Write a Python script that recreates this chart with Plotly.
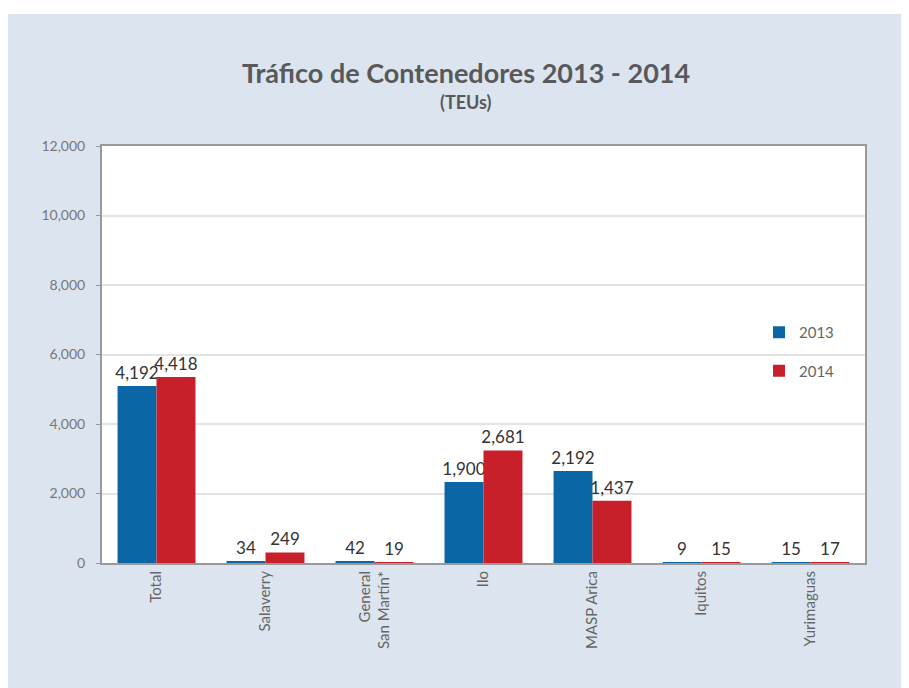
import plotly.graph_objects as go

categories = ["Total", "Salaverry", "General<br>San Martín*", "Ilo", "MASP Arica", "Iquitos", "Yurimaguas"]
# bar heights
heights_2013 = [5095, 40, 60, 2330, 2650, 11, 18]
heights_2014 = [5350, 305, 23, 3240, 1790, 18, 21]
# printed data labels
labels_2013 = ["4,192", "34", "42", "1,900", "2,192", "9", "15"]
labels_2014 = ["4,418", "249", "19", "2,681", "1,437", "15", "17"]
y_ticks = [0, 2000, 4000, 6000, 8000, 10000, 12000]

FONT = "Lato"
BLUE = "#0b66a6"
RED = "#c8202b"
PANEL = "#dce5ef"

fig = go.Figure()
fig.add_trace(go.Bar(
    x=categories, y=heights_2013, name="2013", text=labels_2013,
    textposition="outside", textangle=0, constraintext="none", cliponaxis=False,
    textfont=dict(family=FONT, size=17, color="#333333"),
    marker=dict(color=BLUE, line=dict(width=0)),
    legendgroup="a",
))
fig.add_trace(go.Bar(
    x=categories, y=heights_2014, name="2014", text=labels_2014,
    textposition="outside", textangle=0, constraintext="none", cliponaxis=False,
    textfont=dict(family=FONT, size=17, color="#333333"),
    marker=dict(color=RED, line=dict(width=0)),
    legendgroup="b",
))

# figure coordinates (page is offset by the 8px body margin)
W, H = 909, 688
L, R, T, B = 94, 52, 138, 133
pw = W - L - R
ph = H - T - B

def px_x(x):
    return (x - L) / pw

def px_y(y):
    return (H - B - y) / ph

fig.update_layout(
    width=W, height=H,
    margin=dict(l=L, r=R, t=T, b=B),
    paper_bgcolor=PANEL,
    plot_bgcolor="white",
    barmode="group",
    bargap=0.285,
    bargroupgap=0,
    font=dict(family=FONT, color="#666666"),
    showlegend=True,
    legend=dict(
        x=px_x(751), y=px_y(308), xanchor="left", yanchor="top",
        bgcolor="rgba(0,0,0,0)", font=dict(family=FONT, size=15, color="#666666"),
        tracegroupgap=16, itemwidth=30,
    ),
    xaxis=dict(
        range=[-0.5, 6.5],
        tickangle=-90,
        tickfont=dict(family=FONT, size=15, color="#666666"),
        showline=True, linecolor="#999999", linewidth=2, mirror=True,
        ticks="", showgrid=False,
    ),
    yaxis=dict(
        range=[0, 12000],
        tickvals=y_ticks,
        tickformat=",d",
        tickfont=dict(family=FONT, size=14, color="#777777"),
        showline=True, linecolor="#999999", linewidth=2, mirror=True,
        ticks="outside", ticklen=4, tickcolor="#999999", tickwidth=1,
        ticklabelstandoff=8,
        showgrid=True, gridcolor="#e4e4e4", gridwidth=1.5,
        zeroline=False,
    ),
    shapes=[
        dict(type="rect", xref="paper", yref="paper", layer="below",
             x0=px_x(-10), x1=px_x(W + 10), y0=px_y(6), y1=px_y(-10),
             fillcolor="white", line=dict(width=0)),
    ],
    annotations=[
        dict(text="<b>Tráfico de Contenedores 2013 - 2014</b>", xref="paper", yref="paper",
             x=px_x(458), y=px_y(64), xanchor="center", yanchor="middle", showarrow=False,
             font=dict(family=FONT, size=27, color="#58595b")),
        dict(text="<b>(TEUs)</b>", xref="paper", yref="paper",
             x=px_x(458), y=px_y(94), xanchor="center", yanchor="middle", showarrow=False,
             font=dict(family=FONT, size=18, color="#58595b")),
    ],
)

fig.write_html("out.html")
